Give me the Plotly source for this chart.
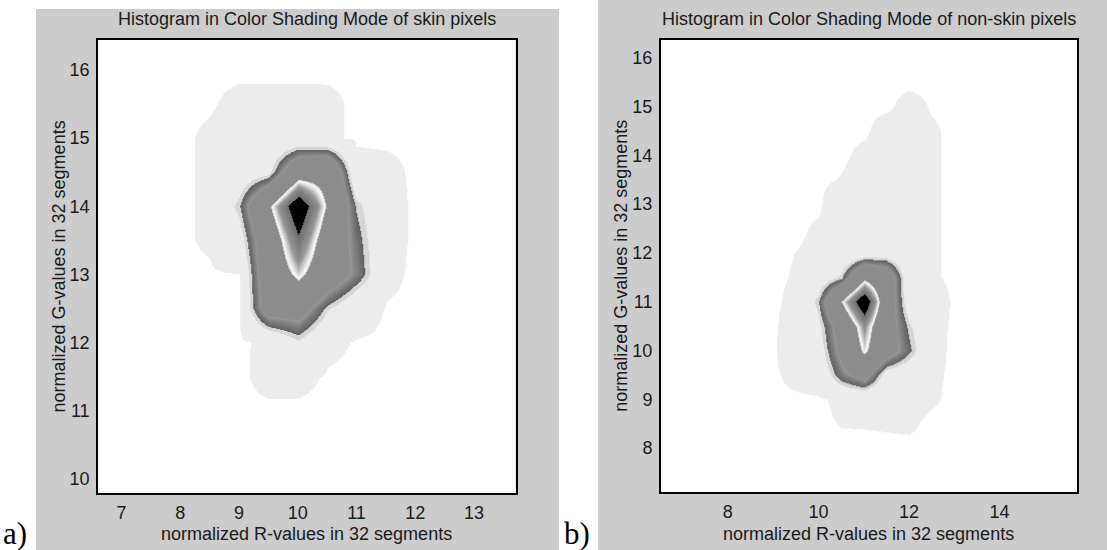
import plotly.graph_objects as go

W, H = 1107, 550

# ---------------- data (histogram counts, normalised to peak = 100) ----------
# skin pixels: R bins (columns) and G bins (rows), half-segment resolution
r_skin = [7.5, 8, 8.5, 9, 9.5, 10, 10.5, 11, 11.5, 12, 12.5]
g_skin = [10.5, 11, 11.5, 12, 12.5, 13, 13.5, 14, 14.5, 15, 15.5, 16, 16.5]
z_skin = [
    [0, 0, 0,   0,   0,   0,    0,    0,   0,   0, 0],   # G=10.5
    [0, 0, 0,   0,   0,   0,    0,    0,   0,   0, 0],   # G=11
    [0, 0, 0,   0,   1.4, 1.3,  0.2,  0,   0,   0, 0],   # G=11.5
    [0, 0, 0,   0,   1.3, 13.5, 1.25, 0.3, 0,   0, 0],   # G=12
    [0, 0, 0,   0,   40,  40,   16.7, 2.6, 0.3, 0, 0],   # G=12.5
    [0, 0, 0,   0.4, 45,  67,   46,   26,  1.3, 0, 0],   # G=13
    [0, 0, 1,   9,   46,  83.5, 50,   23,  1.9, 0, 0],   # G=13.5
    [0, 0, 1,   18,  59,  100,  60,   18,  1.9, 0, 0],   # G=14
    [0, 0, 1,   6,   11,  51.5, 55,   2,   1.4, 0, 0],   # G=14.5
    [0, 0, 1,   2,   2.5, 3,    1.2,  0,   0,   0, 0],   # G=15
    [0, 0, 0.2, 1.3, 1.3, 1.3,  1.2,  0,   0,   0, 0],   # G=15.5
    [0, 0, 0,   0,   0,   0,    0,    0,   0,   0, 0],   # G=16
    [0, 0, 0,   0,   0,   0,    0,    0,   0,   0, 0],   # G=16.5
]

# non-skin pixels
r_nonskin = [8.5, 9, 9.5, 10, 10.5, 11, 11.5, 12, 12.5, 13, 13.5]
g_nonskin = [7.5, 8, 8.5, 9, 9.5, 10, 10.5, 11, 11.5, 12, 12.5, 13, 13.5,
             14, 14.5, 15, 15.5, 16]
z_nonskin = [
    [0, 0, 0,    0,    0,    0,    0,    0,    0,    0, 0],   # G=7.5
    [0, 0, 0,    0,    0,    0,    0,    0,    0,    0, 0],   # G=8
    [0, 0, 0,    0,    0.6,  0.65, 0.75, 0.9,  0,    0, 0],   # G=8.5
    [0, 0, 0,    0,    1.25, 1.2,  1.5,  1.5,  0.83, 0, 0],   # G=9
    [0, 0, 1.56, 3.1,  25,   38,   9.1,  4,    1.09, 0, 0],   # G=9.5
    [0, 0, 3.6,  8.3,  35,   66,   40,   21,   1.47, 0, 0],   # G=10
    [0, 0, 2.5,  11.6, 40,   74,   40,   16.7, 1.67, 0, 0],   # G=10.5
    [0, 0, 1.39, 18,   62,   100,  45,   5.6,  2.5,  0, 0],   # G=11
    [0, 0, 0.78, 6,    17,   57,   45,   3,    0.83, 0, 0],   # G=11.5
    [0, 0, 0.54, 1.1,  2,    5.6,  6.8,  2.4,  0.83, 0, 0],   # G=12
    [0, 0, 0,    0.93, 1.5,  3,    3,    2.4,  0.83, 0, 0],   # G=12.5
    [0, 0, 0,    0,    3.1,  3,    3,    2.5,  0.83, 0, 0],   # G=13
    [0, 0, 0,    0,    0.64, 2,    2,    2.2,  0.83, 0, 0],   # G=13.5
    [0, 0, 0,    0,    0,    1.25, 1.5,  2,    0.83, 0, 0],   # G=14
    [0, 0, 0,    0,    0,    0,    1.9,  1.5,  0.83, 0, 0],   # G=14.5
    [0, 0, 0,    0,    0,    0,    0,    1.5,  0.3,  0, 0],   # G=15
    [0, 0, 0,    0,    0,    0,    0,    0,    0,    0, 0],   # G=15.5
    [0, 0, 0,    0,    0,    0,    0,    0,    0,    0, 0],   # G=16
]

ticks_skin_x = [7, 8, 9, 10, 11, 12, 13]
ticks_skin_y = [10, 11, 12, 13, 14, 15, 16]
ticks_nonskin_x = [8, 10, 12, 14]
ticks_nonskin_y = [8, 9, 10, 11, 12, 13, 14, 15, 16]

titles = ["Histogram in Color Shading Mode of skin pixels",
          "Histogram in Color Shading Mode of non-skin pixels"]
xlabel = "normalized R-values in 32 segments"
ylabel = "normalized G-values in 32 segments"
panel_labels = ["a)", "b)"]

# ---------------- grey colour map with shading bands -------------------------
def g(v):
    return f"rgb({v},{v},{v})"

colorscale = [
    [0.000, g(255)], [0.005, g(255)],
    [0.005, g(236)], [0.150, g(236)],
    [0.150, g(214)], [0.190, g(214)],
    [0.190, g(95)],  [0.300, g(150)],
    [0.310, g(140)], [0.620, g(140)],
    [0.620, g(215)], [0.640, g(250)],
    [0.720, g(150)], [0.800, g(125)],
    [0.860, g(112)], [0.860, g(0)],
    [1.000, g(0)],
]

FONT = "Liberation Sans, Arial, Helvetica, sans-serif"
TXT = "#1a1a1a"

# pixel geometry
L = dict(x0=98, x1=515.7, y0=40, y1=493)
R = dict(x0=660.8, x1=1077, y0=40, y1=492)


def px(x):
    return x / W


def py(y):
    return 1 - y / H


fig = go.Figure()
fig.add_trace(go.Heatmap(x=r_skin, y=g_skin, z=z_skin, zsmooth="best",
                         colorscale=colorscale, zmin=0, zmax=100,
                         showscale=False, hoverinfo="skip",
                         xaxis="x", yaxis="y"))
fig.add_trace(go.Heatmap(x=r_nonskin, y=g_nonskin, z=z_nonskin, zsmooth="best",
                         colorscale=colorscale, zmin=0, zmax=100,
                         showscale=False, hoverinfo="skip",
                         xaxis="x2", yaxis="y2"))

axis_common = dict(showline=True, mirror=True, linecolor="black", linewidth=1.6,
                   showgrid=False, zeroline=False, ticks="",
                   tickfont=dict(family=FONT, size=18, color=TXT))

fig.update_layout(
    width=W, height=H,
    margin=dict(l=0, r=0, t=0, b=0),
    paper_bgcolor="white",
    plot_bgcolor="white",
    showlegend=False,
    xaxis=dict(domain=[px(L["x0"]), px(L["x1"])], range=[6.60, 13.71],
               tickvals=ticks_skin_x, anchor="y", ticklabelstandoff=3,
               **axis_common),
    yaxis=dict(domain=[py(L["y1"]), py(L["y0"])], range=[9.79, 16.44],
               tickvals=ticks_skin_y, anchor="x", ticklabelstandoff=3,
               **axis_common),
    xaxis2=dict(domain=[px(R["x0"]), px(R["x1"])], range=[6.52, 15.71],
                tickvals=ticks_nonskin_x, anchor="y2", ticklabelstandoff=3,
                **axis_common),
    yaxis2=dict(domain=[py(R["y1"]), py(R["y0"])], range=[7.10, 16.36],
                tickvals=ticks_nonskin_y, anchor="x2", ticklabelstandoff=3,
                **axis_common),
)

# grey figure backgrounds, then white axes areas on top of them
shapes = [
    dict(type="rect", xref="paper", yref="paper", x0=px(36), x1=px(559),
         y0=0, y1=py(9), fillcolor="#cccccc", line=dict(width=0), layer="below"),
    dict(type="rect", xref="paper", yref="paper", x0=px(598), x1=1,
         y0=0, y1=1, fillcolor="#cccccc", line=dict(width=0), layer="below"),
]
for P in (L, R):
    shapes.append(dict(type="rect", xref="paper", yref="paper",
                       x0=px(P["x0"]), x1=px(P["x1"]), y0=py(P["y1"]), y1=py(P["y0"]),
                       fillcolor="white", line=dict(width=0), layer="below"))
fig.update_layout(shapes=shapes)

ann = []
for i, P in enumerate((L, R)):
    cx = px((P["x0"] + P["x1"]) / 2)
    cy = py((P["y0"] + P["y1"]) / 2)
    ann.append(dict(text=titles[i], x=cx, y=py(19), xref="paper", yref="paper",
                    showarrow=False, xanchor="center", yanchor="middle",
                    font=dict(family=FONT, size=18, color=TXT)))
    ann.append(dict(text=xlabel, x=cx, y=py(534), xref="paper", yref="paper",
                    showarrow=False, xanchor="center", yanchor="middle",
                    font=dict(family=FONT, size=18, color=TXT)))
    ann.append(dict(text=ylabel, x=px(P["x0"] - 40), y=cy, xref="paper", yref="paper",
                    showarrow=False, xanchor="center", yanchor="middle", textangle=-90,
                    font=dict(family=FONT, size=18, color=TXT)))
ann.append(dict(text=panel_labels[0], x=px(1), y=py(533), xref="paper", yref="paper",
                showarrow=False, xanchor="left", yanchor="middle",
                font=dict(family="Liberation Serif, DejaVu Serif, serif", size=31, color="black")))
ann.append(dict(text=panel_labels[1], x=px(562), y=py(533), xref="paper", yref="paper",
                showarrow=False, xanchor="left", yanchor="middle",
                font=dict(family="Liberation Serif, DejaVu Serif, serif", size=31, color="black")))
fig.update_layout(annotations=ann)

fig.write_html("out.html",
               config={"displayModeBar": False},
               post_script="document.body.style.margin='0';"
                           "document.body.style.overflow='hidden';")
